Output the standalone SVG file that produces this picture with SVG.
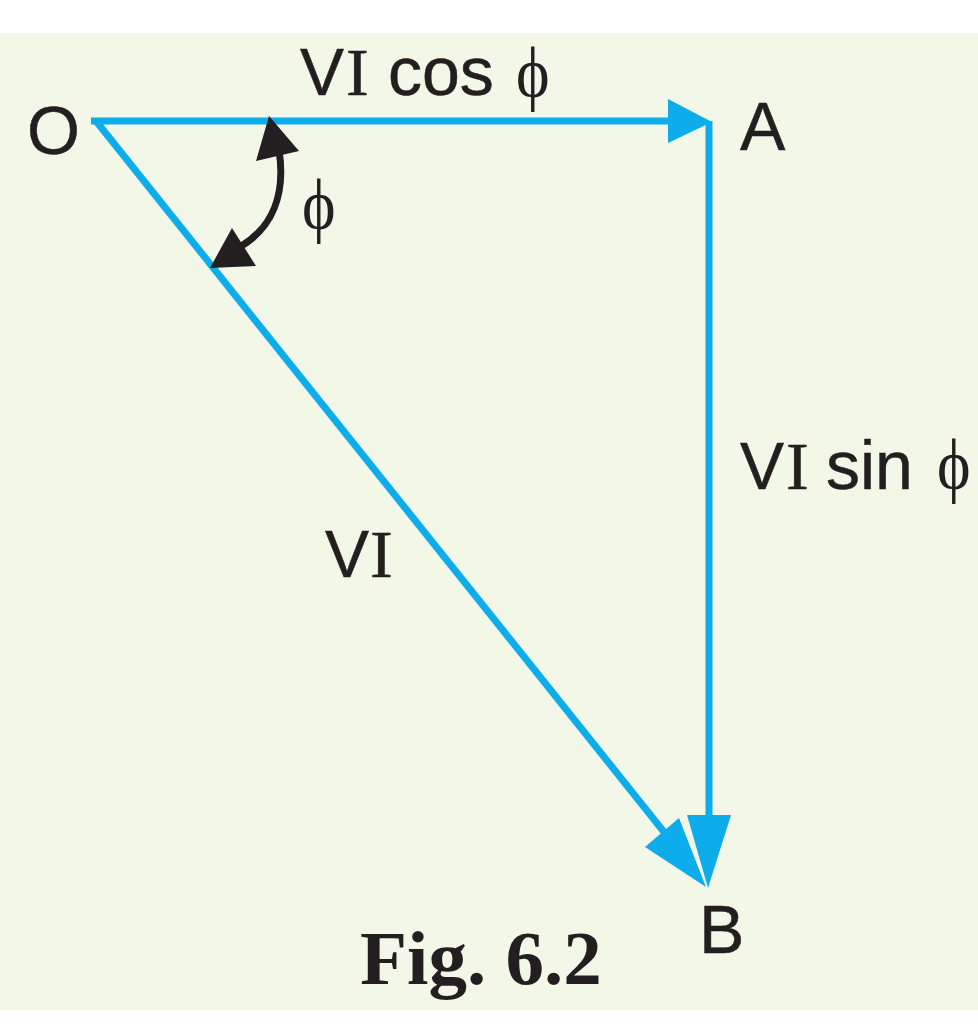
<svg xmlns="http://www.w3.org/2000/svg" width="978" height="1024" viewBox="0 0 978 1024">
<style>
.s{font-family:"Liberation Sans",Arial,sans-serif;font-size:68px;fill:#231f20;stroke:#231f20;stroke-width:.5}
.v{font-family:"Liberation Sans",Arial,sans-serif;font-size:66px;fill:#231f20;stroke:#231f20;stroke-width:.5}
.t{font-family:"Liberation Serif","Times New Roman",serif;font-size:68px;fill:#231f20;stroke:#231f20;stroke-width:.5}
.f{font-family:"Liberation Serif","DejaVu Serif",serif;font-size:58px;fill:#231f20}
.b{font-family:"Liberation Serif","Times New Roman",serif;font-size:77px;font-weight:bold;fill:#231f20}
.l{fill:none;stroke:#0cadea;stroke-width:7}
.a{fill:#0cadea}
.k{fill:#231f20}
</style>
<rect width="978" height="1024" fill="#fff"/>
<rect x="0" y="33" width="978" height="977" fill="#f2f7e7"/>
<g id="connectors">
<path class="l" d="M91 121H670"/>
<path class="l" d="M709 121V820"/>
<path class="l" d="M96 121L664 832"/>
<path class="a" d="M668 99L712 122L668 143Z"/>
<path class="a" d="M687 815H731L708 888Z"/>
<path class="a" d="M645 847L679 818L706 887Z"/>
<path d="M279 150C286 195 272 228 240 247" fill="none" stroke="#231f20" stroke-width="7"/>
<path class="k" d="M269 116L299 151L256 161Z"/>
<path class="k" d="M210 268L232 228L256 266Z"/>
</g>
<g id="labels">
<text class="s" x="27" y="154">O</text>
<text class="s" x="740" y="150">A</text>
<text class="s" x="699" y="953">B</text>
<text class="v" x="300" y="95">V</text><text class="t" x="346" y="95">I</text><text class="s" x="388" y="95">cos</text><text class="f" transform="translate(516 97) scale(1.1 1.25)">ϕ</text>
<text class="f" transform="translate(302 229) scale(1.1 1.25)">ϕ</text>
<text class="v" x="740" y="489">V</text><text class="t" x="786" y="489">I</text><text class="s" x="826" y="489">sin</text><text class="f" transform="translate(937 489) scale(1.1 1.25)">ϕ</text>
<text class="v" x="325" y="577">V</text><text class="t" x="370" y="577">I</text>
<text class="b" x="360" y="984">Fig. 6.2</text>
</g>
</svg>
